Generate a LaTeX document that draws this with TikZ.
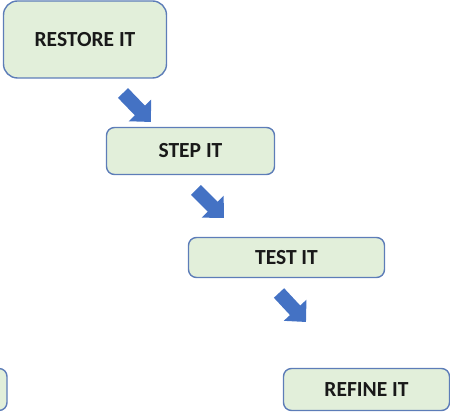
\documentclass[tikz,border=0pt]{standalone}
\usepackage{fontspec}
\setmainfont{Carlito}
\usepackage{tikz}
\usetikzlibrary{arrows.meta}
\definecolor{boxfill}{HTML}{E2EFDA}
\definecolor{boxline}{HTML}{5D7DB8}
\definecolor{arrowblue}{HTML}{4472C4}
\tikzset{%
            base/.style = {rectangle, rounded corners=8pt, draw=boxline, line width=1.4pt,
                           fill=boxfill, inner sep=0pt, text=black!90,
                           text centered, font=\fontsize{21.5}{25}\selectfont\bfseries},
  box0/.style = {base, minimum width=163pt, minimum height=77pt, rounded corners=14pt},
  box1/.style = {base, minimum width=168pt, minimum height=47pt},
  box2/.style = {base, minimum width=196pt, minimum height=40pt},
  box3/.style = {base, minimum width=166pt, minimum height=42pt},
  blockarrow/.style = {draw=arrowblue, line width=14pt,
                       -{Triangle[width=30pt,length=16pt]}},
}
\begin{document}
\begin{tikzpicture}[x=1pt, y=1pt]
  \clip (0,0) rectangle (450,412);

  \node (onRestore) [box0] at (85,372.5)  {RESTORE IT};
  \node (onStep)    [box1] at (190.5,261) {STEP IT};
  \node (onTest)    [box2] at (286.5,154.5) {TEST IT};
  \node (onRefine)  [box3] at (366.5,22.5) {REFINE IT};
  \node (onPrev)    [box3] at (-76,22.5)  {};

  % arrow ends sit in the gaps between the boxes
  \coordinate (a1s) at (123,319);  \coordinate (a1e) at (151,290);
  \coordinate (a2s) at (196,222);  \coordinate (a2e) at (224,194);
  \coordinate (a3s) at (279,119);  \coordinate (a3e) at (306,90);

  \draw[blockarrow] (a1s) -- (a1e);
  \draw[blockarrow] (a2s) -- (a2e);
  \draw[blockarrow] (a3s) -- (a3e);
\end{tikzpicture}
\end{document}
